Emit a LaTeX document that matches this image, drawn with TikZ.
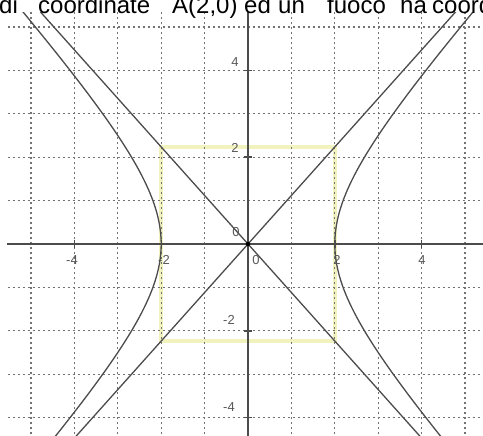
\documentclass[tikz,border=0pt]{standalone}
\usepackage{fontspec}
\setmainfont{Liberation Sans}
\begin{document}
\begin{tikzpicture}[x=1pt,y=-1pt,
  gridline/.style={draw=black!55,line width=1.3pt,dash pattern=on 2.5pt off 2.5pt},
  axisline/.style={draw=black!70,line width=1.4pt},
  curveline/.style={draw=black!70,line width=1.3pt},
  yellowbox/.style={draw={rgb,255:red,242;green,242;blue,190},line width=4.5pt},
  ticklab/.style={text=black!65,font=\fontsize{13}{13}\selectfont,inner sep=0pt},
  topword/.style={anchor=base west,inner sep=0pt,font=\fontsize{24}{24}\selectfont}]
\clip (0,0) rectangle (483,436);
\fill[white] (0,0) rectangle (483,436);
\begin{scope}
\clip (7,13) rectangle (483,436);
\begin{scope}[shift={(248,244)},x=43.4pt,y=43.4pt]
  \draw[yellowbox] (-2,-2.236) rectangle (2,2.236);
  \foreach \i in {-5,...,5} \draw[gridline] (\i,-6) -- (\i,6);
  \foreach \j in {-4,...,5} \draw[gridline] (-6,\j) -- (6,\j);
  \draw[axisline] (-6,0) -- (6,0);
  \draw[axisline] (0,-6) -- (0,6);
  \foreach \i in {-4,-2,2,4} {
    \draw[axisline] (\i,-0.1) -- (\i,0.1);
    \draw[axisline] (-0.1,\i) -- (0.1,\i);
  }
  \draw[curveline] (-6,-6.708) -- (6,6.708);
  \draw[curveline] (-6,6.708) -- (6,-6.708);
  \draw[curveline] plot[domain=-1.9:1.9,samples=90,variable=\t] ({2*cosh(\t)},{2.236*sinh(\t)});
  \draw[curveline] plot[domain=-1.9:1.9,samples=90,variable=\t] ({-2*cosh(\t)},{2.236*sinh(\t)});
  \fill[black] (0,0) circle (2.2pt);
\end{scope}
\end{scope}
% axis labels
\node[ticklab] (xm4) at (72,260) {-4};
\node[ticklab] (xm2) at (164,260) {-2};
\node[ticklab] (x0) at (256,260) {0};
\node[ticklab] (x2) at (337,260) {2};
\node[ticklab] (x4) at (422,260) {4};
\node[ticklab] (y4) at (235,62) {4};
\node[ticklab] (y2) at (235,148) {2};
\node[ticklab] (y0) at (236,232) {0};
\node[ticklab] (ym2) at (229,320) {-2};
\node[ticklab] (ym4) at (229,407) {-4};
% top text (cut off by the picture's top edge, as in the reference)
\node[topword] (w1) at (-1,13.5) {di};
\node[topword] (w2) at (38,13.5) {coordinate};
\node[topword] (w3) at (172,13.5) {A(2,0)};
\node[topword] (w4) at (244,13.5) {ed};
\node[topword] (w5) at (278,13.5) {un};
\node[topword] (w6) at (327,13.5) {fuoco};
\node[topword] (w7) at (400,13.5) {ha};
\node[topword] (w8) at (432,13.5) {coordinate};
\end{tikzpicture}
\end{document}
